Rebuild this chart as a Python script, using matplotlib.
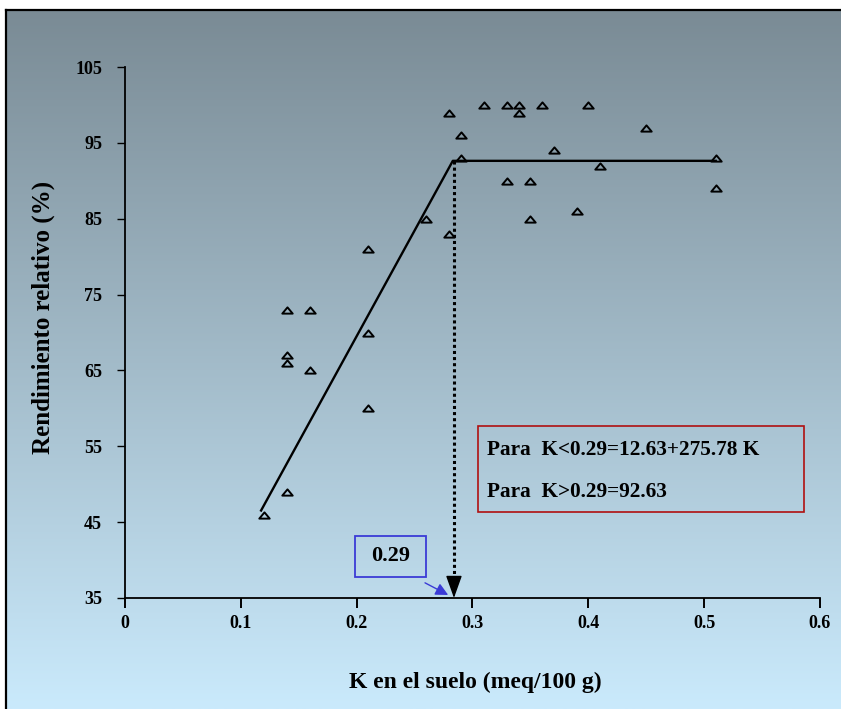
import numpy as np
import matplotlib
matplotlib.use("Agg")
import matplotlib.pyplot as plt
from matplotlib.patches import Rectangle
from matplotlib.path import Path

# ---------------- data ----------------
k_soil = [0.12, 0.14, 0.14, 0.14, 0.14, 0.16, 0.16, 0.21, 0.21, 0.21,
          0.26, 0.28, 0.28, 0.29, 0.29, 0.31, 0.33, 0.33, 0.34, 0.34,
          0.35, 0.35, 0.36, 0.37, 0.39, 0.40, 0.41, 0.45, 0.51, 0.51]
rel_yield = [46, 49, 66, 67, 73, 65, 73, 60, 70, 81,
             85, 83, 99, 93, 96, 100, 100, 90, 100, 99,
             90, 85, 100, 94, 86, 100, 92, 97, 93, 89]
fit_x = [0.117, 0.283, 0.511]
fit_y = [46.4, 92.63, 92.63]
break_k = 0.284
plateau = 92.63
x_ticks = [0, 0.1, 0.2, 0.3, 0.4, 0.5, 0.6]
x_ticklabels = ["0", "0.1", "0.2", "0.3", "0.4", "0.5", "0.6"]
y_ticks = [35, 45, 55, 65, 75, 85, 95, 105]
eq_lines = ["Para  K<0.29=12.63+275.78 K", "Para  K>0.29=92.63"]
break_label = "0.29"
xlabel = "K en el suelo (meq/100 g)"
ylabel = "Rendimiento relativo (%)"

FONT = "Liberation Serif"

W, H = 841, 709
fig = plt.figure(figsize=(W / 100, H / 100), dpi=100)
fig.patch.set_facecolor("white")

# background gradient panel with frame
bg = fig.add_axes([6 / W, 0, 1 - 6 / W, (H - 10) / H])
top = np.array([122, 139, 149]) / 255
bot = np.array([202, 234, 252]) / 255
t = np.linspace(0, 1, 256)[:, None]
grad = (top[None, :] * (1 - t) + bot[None, :] * t)[:, None, :]
bg.imshow(grad, aspect="auto", extent=[0, 1, 0, 1], origin="upper")
bg.set_xlim(0, 1)
bg.set_ylim(0, 1)
bg.set_xticks([])
bg.set_yticks([])
for s in ["right", "bottom"]:
    bg.spines[s].set_visible(False)
for s in ["left", "top"]:
    bg.spines[s].set_linewidth(1.6)
    bg.spines[s].set_color("black")

# main axes
ax = fig.add_axes([125 / W, (H - 598) / H, 695 / W, 531 / H])
ax.patch.set_alpha(0)
ax.set_xlim(0, 0.6)
ax.set_ylim(35, 105)
for s in ["right", "top"]:
    ax.spines[s].set_visible(False)
for s in ["left", "bottom"]:
    ax.spines[s].set_linewidth(1.3)
ax.set_xticks(x_ticks)
ax.set_xticklabels(x_ticklabels)
ax.set_yticks(y_ticks)
ax.tick_params(axis="x", direction="out", length=7.5, width=1.4, pad=5)
ax.tick_params(axis="y", direction="out", length=5.5, width=1.0, pad=11)
for lab in ax.get_xticklabels() + ax.get_yticklabels():
    lab.set_fontfamily(FONT)
    lab.set_fontweight("bold")
    lab.set_fontsize(13)

# flattened open triangle marker
tri = Path([(-1, -0.6), (1, -0.6), (0, 0.6), (-1, -0.6)],
           [Path.MOVETO, Path.LINETO, Path.LINETO, Path.CLOSEPOLY])
ax.plot(k_soil, rel_yield, linestyle="none", marker=tri, markersize=7.5,
        markerfacecolor="none", markeredgecolor="black",
        markeredgewidth=1.4, zorder=4)

# fitted linear-plateau
ax.plot(fit_x, fit_y, color="black", lw=1.7, zorder=3, solid_capstyle="butt")

# dotted drop line with arrow head
ax.plot([break_k, break_k], [plateau, 36.5], color="black", lw=2.2,
        linestyle=(0, (1, 1)), zorder=3)
ax.annotate("", xy=(break_k, 35), xytext=(break_k, 37.2),
            arrowprops=dict(arrowstyle="-|>,head_length=0.7,head_width=0.25",
                            color="black", lw=1, mutation_scale=20,
                            shrinkA=0, shrinkB=0), zorder=5)

# blue label box with arrow
ax.add_patch(Rectangle((0.1986, 37.8), 0.0614, 5.4, facecolor="none",
                       edgecolor="#3b3bd6", lw=1.3, zorder=4))
ax.text(0.2293, 40.5, break_label, ha="center", va="center",
        fontfamily=FONT, fontweight="bold", fontsize=16, zorder=5)
ax.annotate("", xy=(0.279, 35.4), xytext=(0.259, 37.0),
            arrowprops=dict(arrowstyle="-|>,head_length=0.5,head_width=0.25",
                            color="#3b3bd6", lw=1, mutation_scale=15,
                            shrinkA=0, shrinkB=0), zorder=5)

# red equation box
ax.add_patch(Rectangle((0.3048, 46.4), 0.2814, 11.3, facecolor="none",
                       edgecolor="#b01010", lw=1.2, zorder=4))
ax.text(0.3125, 54.55, eq_lines[0], ha="left", va="center",
        fontfamily=FONT, fontweight="bold", fontsize=15.3, zorder=5)
ax.text(0.3125, 49.0, eq_lines[1], ha="left", va="center",
        fontfamily=FONT, fontweight="bold", fontsize=15.3, zorder=5)

# axis labels
ax.set_xlabel(xlabel, fontfamily=FONT, fontweight="bold", fontsize=17)
ax.xaxis.set_label_coords(0.5036, -0.139)
ax.set_ylabel(ylabel, fontfamily=FONT, fontweight="bold", fontsize=18)
ax.yaxis.set_label_coords(-0.1007, 0.528)

fig.savefig("out.png", dpi=100)
